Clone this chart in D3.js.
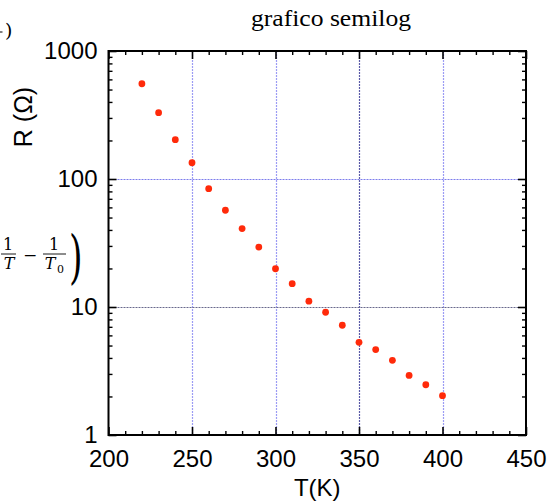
<!DOCTYPE html>
<html>
<head>
<meta charset="utf-8">
<script src="https://cdn.jsdelivr.net/npm/d3@7/dist/d3.min.js"></script>
<style>
  html, body { margin: 0; padding: 0; background: #fff; }
  svg { display: block; }
</style>
</head>
<body>
<svg id="chart" width="549" height="501"></svg>
<script>
// ---- data ----
const temperatures = [220, 230, 240, 250, 260, 270, 280, 290, 300, 310, 320, 330, 340, 350, 360, 370, 380, 390, 400];
const resistances  = [555, 330, 203, 134, 84, 57, 41, 29.4, 19.9, 15.2, 11.1, 9.1, 7.2, 5.3, 4.65, 3.83, 2.92, 2.47, 2.03];
const xTicks = [200, 250, 300, 350, 400, 450];
const yTicks = [1, 10, 100, 1000];
const xGrid = [250, 300, 350, 400];
const yGrid = [10, 100];
const titleText = "grafico semilog";
const xLabel = "T(K)";
const yLabel = "R (\u03A9)";

const svg = d3.select("#chart");
const L = 108.5, R = 526, T = 51, B = 435;

const x = d3.scaleLinear().domain([200, 450]).range([L, R]);
const y = d3.scaleLog().domain([1, 1000]).range([B, T]);

const xMinor = d3.range(200, 451, 10).filter(v => !xTicks.includes(v));
const yMinor = [];
[1, 10, 100].forEach(d => { for (let k = 2; k <= 9; k++) yMinor.push(d * k); });

const px = v => Math.round(v) + 0.5;

// grid
const grid = svg.append("g");
grid.selectAll("line.gx").data(xGrid).join("line")
  .attr("x1", d => px(x(d))).attr("x2", d => px(x(d)))
  .attr("y1", T).attr("y2", B)
  .attr("stroke", d => d === 350 ? "#5a5aa8" : "#9c9cf4")
  .attr("stroke-width", 1.2)
  .attr("stroke-dasharray", "2,1");
grid.selectAll("line.gy").data(yGrid).join("line")
  .attr("x1", L).attr("x2", R)
  .attr("y1", d => px(y(d))).attr("y2", d => px(y(d)))
  .attr("stroke", d => d === 10 ? "#68688c" : "#7c7cec")
  .attr("stroke-width", 1.2)
  .attr("stroke-dasharray", "2,1");

// axes
const font = "'Liberation Sans', Arial, Helvetica, sans-serif";
function styleAxis(g, w) {
  g.select(".domain").remove();
  g.selectAll(".tick line").attr("stroke", "#000").attr("stroke-width", w);
}
const gb = svg.append("g").attr("transform", `translate(0,${B})`)
  .call(d3.axisBottom(x).tickValues(xTicks).tickSize(-8).tickPadding(15).tickFormat(d3.format("d")));
styleAxis(gb, 1.6);
gb.selectAll("text").attr("font-family", font).attr("font-size", 24).attr("fill", "#000");
svg.append("g").attr("transform", `translate(0,${B})`)
  .call(d3.axisBottom(x).tickValues(xMinor).tickSize(-4).tickFormat(""))
  .call(g => styleAxis(g, 1.4));
svg.append("g").attr("transform", `translate(0,${T})`)
  .call(d3.axisTop(x).tickValues(xTicks).tickSize(-8).tickFormat(""))
  .call(g => styleAxis(g, 1.6));
svg.append("g").attr("transform", `translate(0,${T})`)
  .call(d3.axisTop(x).tickValues(xMinor).tickSize(-4).tickFormat(""))
  .call(g => styleAxis(g, 1.4));
const gl = svg.append("g").attr("transform", `translate(${L},0)`)
  .call(d3.axisLeft(y).tickValues(yTicks).tickSize(-8).tickPadding(11).tickFormat(d3.format("d")));
styleAxis(gl, 1.6);
gl.selectAll("text").attr("font-family", font).attr("font-size", 24).attr("fill", "#000").attr("dy", "0.3em");
svg.append("g").attr("transform", `translate(${L},0)`)
  .call(d3.axisLeft(y).tickValues(yMinor).tickSize(-4).tickFormat(""))
  .call(g => styleAxis(g, 1.4));
svg.append("g").attr("transform", `translate(${R},0)`)
  .call(d3.axisRight(y).tickValues(yTicks).tickSize(-8).tickFormat(""))
  .call(g => styleAxis(g, 1.6));
svg.append("g").attr("transform", `translate(${R},0)`)
  .call(d3.axisRight(y).tickValues(yMinor).tickSize(-4).tickFormat(""))
  .call(g => styleAxis(g, 1.4));

// frame
svg.append("rect").attr("x", L).attr("y", T).attr("width", R - L).attr("height", B - T)
  .attr("fill", "none").attr("stroke", "#000").attr("stroke-width", 2);

// points
svg.append("g").selectAll("circle").data(temperatures).join("circle")
  .attr("cx", d => x(d))
  .attr("cy", (d, i) => y(resistances[i]))
  .attr("r", 3.4)
  .attr("fill", "#ff2a0a");

// title
svg.append("text").attr("x", 331).attr("y", 26).attr("text-anchor", "middle")
  .attr("font-family", "'Liberation Serif', 'Times New Roman', serif")
  .attr("font-size", 23).attr("textLength", 160).attr("lengthAdjust", "spacingAndGlyphs")
  .attr("fill", "#000").text(titleText);

// axis labels
svg.append("text").attr("x", (L + R) / 2).attr("y", 496).attr("text-anchor", "middle")
  .attr("font-family", font).attr("font-size", 24).attr("fill", "#000").text(xLabel);
svg.append("text").attr("transform", "translate(32,117) rotate(-90)").attr("text-anchor", "middle")
  .attr("font-family", font).attr("font-size", 25).attr("fill", "#000").text(yLabel);

// clipped equation fragments at left edge
const serif = "'DejaVu Serif', 'Liberation Serif', serif";
const eq = svg.append("g").attr("fill", "#000").attr("font-family", serif);
eq.append("line").attr("x1", 0).attr("x2", 2.5).attr("y1", 32).attr("y2", 32).attr("stroke", "#000").attr("stroke-width", 1);
eq.append("text").attr("x", 5).attr("y", 37).attr("font-size", 19).text(")");

eq.append("text").attr("x", 8).attr("y", 250).attr("text-anchor", "middle").attr("font-size", 16).text("1");
eq.append("line").attr("x1", 1).attr("x2", 16).attr("y1", 254).attr("y2", 254).attr("stroke", "#000").attr("stroke-width", 0.9);
eq.append("text").attr("x", 9).attr("y", 269).attr("text-anchor", "middle").attr("font-size", 16).attr("font-style", "italic").text("T");
eq.append("text").attr("x", 30).attr("y", 261).attr("text-anchor", "middle").attr("font-size", 17).text("\u2212");
eq.append("text").attr("x", 54).attr("y", 250).attr("text-anchor", "middle").attr("font-size", 16).text("1");
eq.append("line").attr("x1", 43).attr("x2", 66).attr("y1", 254).attr("y2", 254).attr("stroke", "#000").attr("stroke-width", 0.9);
eq.append("text").attr("x", 50).attr("y", 269).attr("text-anchor", "middle").attr("font-size", 16).attr("font-style", "italic").text("T");
eq.append("text").attr("x", 57).attr("y", 273).attr("font-size", 11).text("0");
eq.append("text").attr("transform", "translate(69,277) scale(0.6,1)").attr("font-size", 58).text(")");
</script>
</body>
</html>
